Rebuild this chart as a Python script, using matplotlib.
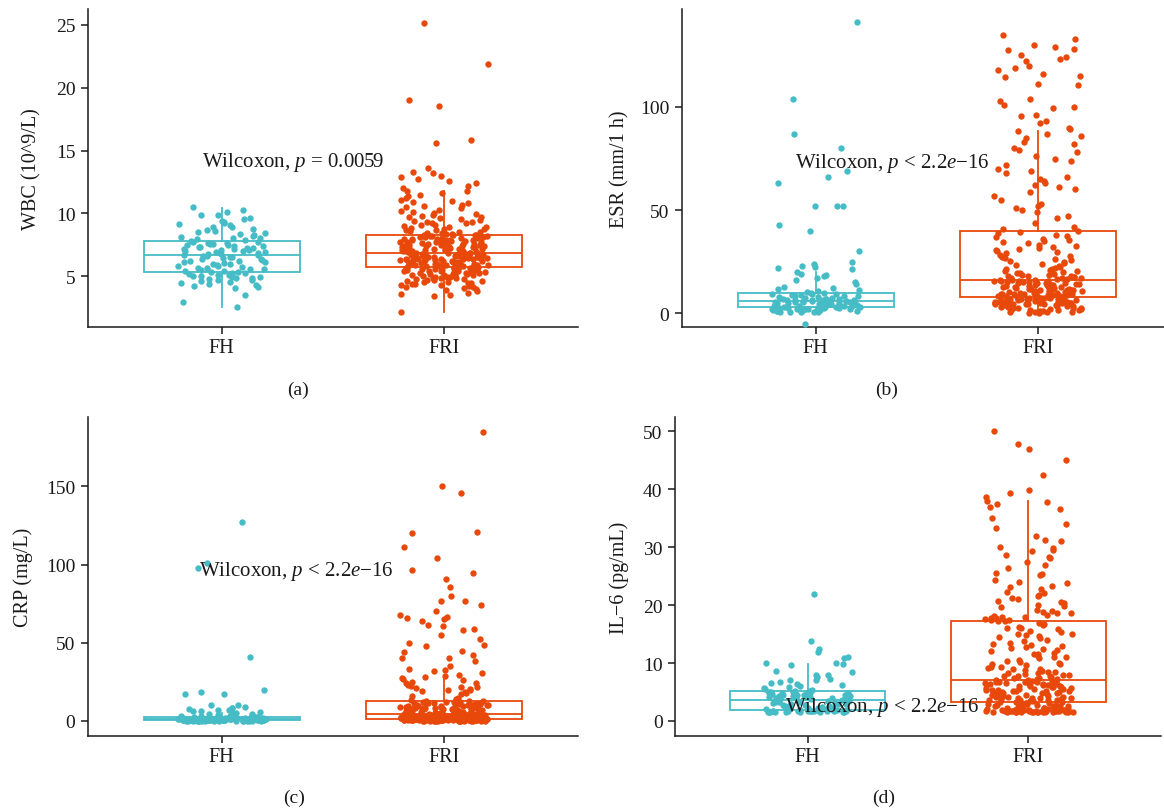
import numpy as np
import matplotlib
matplotlib.use("Agg")
import matplotlib.pyplot as plt

plt.rcParams['font.family'] = ['Liberation Serif', 'DejaVu Serif']
plt.rcParams['mathtext.fontset'] = 'custom'
plt.rcParams['mathtext.rm'] = 'Liberation Serif'
plt.rcParams['mathtext.it'] = 'Liberation Serif:italic'

groups = ["FH", "FRI"]
panel_tags = ["(a)", "(b)", "(c)", "(d)"]
y_titles = ["WBC (10^9/L)", "ESR (mm/1 h)", "CRP (mg/L)", "IL\u22126 (pg/mL)"]
test_labels = [r"Wilcoxon, $p$ = 0.0059",
               r"Wilcoxon, $p$ < 2.2$e$" + "\u221216",
               r"Wilcoxon, $p$ < 2.2$e$" + "\u221216",
               r"Wilcoxon, $p$ < 2.2$e$" + "\u221216"]
test_label_pos = [(0.91, 14.1), (0.908, 73.0), (0.897, 96.0), (0.90, 2.5)]
y_ticks = [[5, 10, 15, 20, 25], [0, 50, 100], [0, 50, 100, 150], [0, 10, 20, 30, 40, 50]]
y_limits = [(0.97, 26.25), (-6.6, 147.4), (-9.6, 194.3), (-2.6, 52.5)]

# box statistics: [FH, FRI]
box_whislo = [[2.56, 2.14], [0.5, 0.5], [0.02, 0.03], [1.5, 1.5]]
box_q1 = [[5.37, 5.74], [3.0, 8.0], [0.5, 1.3], [1.9, 3.2]]
box_med = [[6.72, 6.85], [6.0, 16.0], [1.06, 4.5], [3.7, 7.0]]
box_q3 = [[7.83, 8.31], [10.0, 40.0], [2.3, 12.8], [5.1, 17.3]]
box_whishi = [[10.4, 11.8], [20.0, 88.5], [5.0, 29.0], [9.8, 38.0]]

wbc_fh = [10.5, 10.3, 10.1, 9.9, 9.85, 9.6, 9.55, 9.42, 9.3, 9.2, 9.12, 9.05, 8.95, 8.88, 8.8, 8.72,
          8.64, 8.55, 8.47, 8.38, 8.3, 8.22, 8.15, 8.08, 8.02, 7.95, 7.88,
          7.8, 7.76, 7.72, 7.68, 7.64, 7.6, 7.56, 7.52, 7.48, 7.44, 7.4, 7.36, 7.32, 7.28, 7.24, 7.2,
          7.16, 7.12, 7.08, 7.04, 7.0, 6.96, 6.92, 6.88, 6.84, 6.8, 6.76, 6.73,
          6.7, 6.65, 6.6, 6.55, 6.5, 6.45, 6.4, 6.35, 6.3, 6.25, 6.2, 6.15, 6.1, 6.05, 6.0, 5.95,
          5.9, 5.85, 5.8, 5.75, 5.7, 5.65, 5.6, 5.55, 5.5, 5.46, 5.42, 5.38,
          5.34, 5.3, 5.26, 5.22, 5.18, 5.14, 5.1, 5.06, 5.02, 4.98, 4.94, 4.9, 4.85, 4.8, 4.74,
          4.68, 4.6, 4.52, 4.46, 4.4, 4.32, 4.25, 4.18, 4.1, 3.55, 2.95, 2.56]
wbc_fri = [25.1, 21.9, 19.0, 18.5, 15.8, 15.6, 13.6, 13.3, 13.2, 13.0, 12.9, 12.75, 12.6, 12.4, 12.2,
           12.0, 11.8, 11.75, 11.6, 11.5, 11.4, 11.2, 11.1, 11.0, 10.9, 10.8, 10.7, 10.6, 10.5, 10.4,
           10.3, 10.2, 10.1, 10.0, 9.95, 9.9, 9.8, 9.75, 9.7, 9.6, 9.55, 9.5, 9.4, 9.35, 9.3, 9.25,
           9.2, 9.1, 9.05, 9.0, 8.95, 8.9, 8.85, 8.8, 8.75, 8.7, 8.65, 8.6, 8.55, 8.5, 8.46, 8.42,
           8.38, 8.35, 8.32,
           8.29, 8.27, 8.25, 8.22, 8.2, 8.18, 8.15, 8.13, 8.11, 8.09, 8.06, 8.04, 8.02, 7.99, 7.97,
           7.95, 7.92, 7.9, 7.88, 7.86, 7.83, 7.81, 7.79, 7.76, 7.74, 7.72, 7.69, 7.67, 7.65, 7.63,
           7.6, 7.58, 7.56, 7.53, 7.51, 7.49, 7.46, 7.44, 7.42, 7.4, 7.37, 7.35, 7.33, 7.3, 7.28,
           7.26, 7.23, 7.21, 7.19, 7.17, 7.14, 7.12, 7.1, 7.07, 7.05, 7.03, 7.0, 6.98, 6.96, 6.94,
           6.91, 6.89, 6.87, 6.86, 6.85,
           6.84, 6.82, 6.8, 6.79, 6.77, 6.75, 6.74, 6.72, 6.7, 6.68, 6.67, 6.65, 6.63, 6.62, 6.6,
           6.58, 6.56, 6.55, 6.53, 6.51, 6.5, 6.48, 6.46, 6.44, 6.43, 6.41, 6.39, 6.38, 6.36, 6.34,
           6.32, 6.31, 6.29, 6.27, 6.26, 6.24, 6.22, 6.2, 6.19, 6.17, 6.15, 6.14, 6.12, 6.1, 6.08,
           6.07, 6.05, 6.03, 6.02, 6.0, 5.98, 5.96, 5.95, 5.93, 5.91, 5.9, 5.88, 5.86, 5.84, 5.83,
           5.81, 5.79, 5.78, 5.76, 5.75,
           5.73, 5.71, 5.69, 5.67, 5.65, 5.63, 5.61, 5.59, 5.57, 5.55, 5.53, 5.51, 5.49, 5.47, 5.45,
           5.43, 5.41, 5.39, 5.37, 5.35, 5.32, 5.3, 5.27, 5.25, 5.22, 5.2, 5.17, 5.15, 5.12, 5.1,
           5.07, 5.04, 5.01, 4.98, 4.95, 4.92, 4.89, 4.86, 4.83, 4.8, 4.77, 4.74, 4.7, 4.66, 4.62,
           4.58, 4.54, 4.5, 4.46, 4.42, 4.38, 4.33, 4.28, 4.23, 4.18, 4.12, 4.06, 4.0, 3.9, 3.8,
           3.7, 3.6, 3.5, 3.45, 2.14]

esr_fh = [141, 104, 87, 80, 69, 66, 63, 52, 52.2, 51.8, 43, 40, 30, 25, 24, 23, 22.5, 22, 21.5,
          20, 19, 18.5, 18, 17, 16, 15, 14, 13, 12.5, 12, 11.5, 11, 10.5,
          10, 9.8, 9.6, 9.4, 9.2, 9.0, 8.8, 8.6, 8.4, 8.2, 8.0, 7.8, 7.6, 7.4, 7.2, 7.0, 6.9, 6.8,
          6.7, 6.6, 6.5, 6.4, 6.3, 6.2, 6.1, 6.05, 6.0,
          5.9, 5.8, 5.7, 5.6, 5.5, 5.4, 5.3, 5.2, 5.1, 5.0, 4.9, 4.8, 4.7, 4.6, 4.5, 4.4, 4.3, 4.2,
          4.1, 4.0, 3.8, 3.7, 3.6, 3.4, 3.3, 3.2, 3.1,
          3.0, 2.9, 2.8, 2.7, 2.6, 2.5, 2.4, 2.3, 2.2, 2.1, 2.0, 1.9, 1.8, 1.7, 1.6, 1.5, 1.4, 1.3,
          1.2, 1.1, 1.0, 0.9, 0.8, 0.7, 0.6, 0.5, -5]
esr_fri = [135, 133, 130, 129, 128, 127.5, 125, 124, 123, 122, 120, 119, 118, 116, 115, 114.5, 111,
           110.5, 104, 103, 101, 100, 99.5, 96, 95.5, 93, 92, 90, 89.5, 88.5, 87, 86, 85, 83, 82,
           80, 79, 78, 76, 75, 74, 72, 70, 69, 68, 66, 65, 64, 63, 62, 61, 60, 59, 57, 55, 53, 52,
           51, 50, 49, 47, 46, 44, 42, 41,
           40, 39.5, 39, 38, 37.5, 37, 36, 35.5, 35, 34.5, 34, 33, 32.5, 32, 31.5, 31, 30.5, 30,
           29.5, 29, 28.5, 28, 27.5, 27, 26.5, 26, 25.5, 25, 24.5, 24, 23.5, 23, 22.5, 22, 21.7,
           21.4, 21, 20.7, 20.4, 20, 19.7, 19.4, 19.1, 18.8, 18.5, 18.3, 18.1, 17.9, 17.7, 17.5,
           17.3, 17.1, 16.9, 16.7, 16.5, 16.3, 16.1, 16.0,
           15.9, 15.7, 15.5, 15.3, 15.1, 14.9, 14.7, 14.5, 14.3, 14.1, 13.9, 13.7, 13.5, 13.3, 13.1,
           12.9, 12.7, 12.5, 12.3, 12.1, 11.9, 11.7, 11.5, 11.3, 11.1, 10.9, 10.7, 10.5, 10.3, 10.1,
           9.9, 9.7, 9.5, 9.3, 9.1, 8.9, 8.7, 8.5, 8.3, 8.1, 15.6, 14.8, 14.0, 13.2, 12.4, 11.6,
           10.8, 10.0, 9.2, 8.4, 15.2, 13.6, 12.0, 10.4, 8.8, 14.4, 11.2, 9.6, 8.2, 12.8, 9.4, 10.6,
           13.8, 11.4, 8.6,
           7.9, 7.8, 7.7, 7.6, 7.5, 7.4, 7.3, 7.2, 7.1, 7.0, 6.9, 6.8, 6.7, 6.6, 6.5, 6.4, 6.3, 6.2,
           6.1, 6.0, 5.9, 5.8, 5.7, 5.6, 5.5, 5.4, 5.3, 5.2, 5.1, 5.0, 4.9, 4.8, 4.7, 4.6, 4.5, 4.4,
           4.3, 4.2, 4.1, 4.0, 3.8, 3.6, 3.4, 3.2, 3.0, 2.8, 2.6, 2.4, 2.2, 2.0, 1.8, 1.6, 1.4, 1.2,
           1.0, 0.8, 0.6, 0.5, 0.4, 0.3, 2.5, 3.5, 1.5, 4.5, 0.9]

crp_fh = [127, 101, 98, 41, 20, 18.5, 17.5, 17, 10.5, 10, 9, 8.5, 8, 7.6, 7.2, 7, 6.6, 6.2, 5.8,
          5.4, 5.0, 4.7, 4.4, 4.1, 3.8, 3.5, 3.2, 3.0, 2.8, 2.6, 2.45, 2.3,
          2.25, 2.2, 2.15, 2.1, 2.05, 2.0, 1.95, 1.9, 1.85, 1.8, 1.75, 1.7, 1.65, 1.6, 1.55, 1.5,
          1.45, 1.4, 1.35, 1.3, 1.27, 1.24, 1.2, 1.17, 1.14, 1.11, 1.08,
          1.04, 1.02, 1.0, 0.98, 0.96, 0.94, 0.92, 0.9, 0.88, 0.86, 0.84, 0.82, 0.8, 0.78, 0.76,
          0.74, 0.72, 0.7, 0.68, 0.66, 0.64, 0.62, 0.6, 0.58, 0.56, 0.54, 0.52,
          0.5, 0.48, 0.46, 0.44, 0.42, 0.4, 0.38, 0.36, 0.34, 0.32, 0.3, 0.28, 0.26, 0.24, 0.22,
          0.2, 0.18, 0.16, 0.14, 0.12, 0.1, 0.08, 0.06, 0.05, 0.04, 0.03, 0.02]
crp_fri = [185, 150, 146, 121, 120, 111, 104, 96.5, 94.5, 90.5, 85.5, 80, 77, 76.5, 74, 70, 68, 66,
           66.5, 65, 64, 61.5, 60.5, 59, 58, 55, 52.5, 50, 48.5, 48, 44, 44.5, 42, 40.5, 40, 38.5,
           35, 33.5, 32, 32.5, 30.5, 29.5,
           29, 28, 27.5, 27, 26, 25, 24.5, 24, 23, 22.5, 22, 21.5, 21, 20.5, 20, 19.5, 19, 18.5,
           18, 17, 16, 15, 14, 13.5, 13,
           12.7, 12.5, 12.3, 12.1, 11.9, 11.7, 11.5, 11.3, 11.1, 10.9, 10.7, 10.5, 10.3, 10.1, 9.9,
           9.7, 9.5, 9.3, 9.1, 8.9, 8.7, 8.5, 8.3, 8.1, 7.9, 7.7, 7.5, 7.3, 7.1, 6.9, 6.7, 6.5,
           6.3, 6.1, 5.9, 5.7, 5.5, 5.3, 5.1, 4.9, 4.7, 4.6, 12.0, 11.0, 10.0, 9.0, 8.0, 7.0, 6.0,
           5.0, 11.6, 9.6, 7.6, 5.6, 10.6, 8.6, 6.6, 4.8, 12.4, 6.4, 7.8, 9.8, 5.2, 8.2, 10.8,
           4.45, 4.4, 4.35, 4.3, 4.25, 4.2, 4.15, 4.1, 4.05, 4.0, 3.95, 3.9, 3.85, 3.8, 3.75, 3.7,
           3.65, 3.6, 3.55, 3.5, 3.45, 3.4, 3.35, 3.3, 3.25, 3.2, 3.15, 3.1, 3.05, 3.0, 2.95, 2.9,
           2.85, 2.8, 2.75, 2.7, 2.65, 2.6, 2.55, 2.5, 2.45, 2.4, 2.35, 2.3, 2.25, 2.2, 2.15, 2.1,
           2.05, 2.0, 1.95, 1.9, 1.85, 1.8, 1.75, 1.7, 1.65, 1.6, 1.55, 1.5, 1.45, 1.4, 1.38, 1.35,
           1.32,
           1.28, 1.26, 1.24, 1.22, 1.2, 1.18, 1.16, 1.14, 1.12, 1.1, 1.08, 1.06, 1.04, 1.02, 1.0,
           0.98, 0.96, 0.94, 0.92, 0.9, 0.88, 0.86, 0.84, 0.82, 0.8, 0.78, 0.76, 0.74, 0.72, 0.7,
           0.68, 0.66, 0.64, 0.62, 0.6, 0.58, 0.56, 0.54, 0.52, 0.5, 0.48, 0.46, 0.44, 0.42, 0.4,
           0.38, 0.36, 0.34, 0.32, 0.3, 0.28, 0.26, 0.24, 0.22, 0.2, 0.18, 0.16, 0.14, 0.12, 0.1,
           0.08, 0.06, 0.05, 0.04, 0.03]

il6_fh = [22.0, 13.8, 12.5, 11.9, 11.0, 10.8, 10.0, 9.95, 9.8, 9.7, 8.6, 8.4, 8.0, 7.9, 7.6, 7.3,
          7.1, 7.0, 6.8, 6.6, 6.4, 6.2, 6.0, 5.9, 5.7, 5.5, 5.3, 5.2,
          5.1, 5.05, 5.0, 4.95, 4.9, 4.85, 4.8, 4.75, 4.7, 4.65, 4.6, 4.55, 4.5, 4.45, 4.4, 4.35,
          4.3, 4.25, 4.2, 4.15, 4.1, 4.05, 4.0, 3.95, 3.9, 3.8, 3.75,
          3.65, 3.6, 3.5, 3.45, 3.4, 3.3, 3.25, 3.2, 3.1, 3.05, 3.0, 2.9, 2.85, 2.8, 2.7, 2.65,
          2.6, 2.5, 2.45, 2.4, 2.3, 2.25, 2.2, 2.1, 2.05, 2.0, 1.95,
          1.88, 1.86, 1.84, 1.82, 1.8, 1.78, 1.76, 1.74, 1.72, 1.7, 1.68, 1.66, 1.64, 1.62, 1.6,
          1.58, 1.56, 1.54, 1.52, 1.5, 1.55, 1.65, 1.75, 1.85, 1.57, 1.67, 1.77]
il6_fri = [50.1, 47.8, 46.9, 45.0, 42.5, 39.9, 39.3, 38.7, 38.0, 37.8, 37.4, 36.9, 36.6, 35.1, 33.4,
           31.2, 31.1, 30.0, 29.9, 29.6, 29.4, 28.7, 28.3, 28.2, 26.9, 25.5, 25.4, 25.2, 24.4, 23.9,
           23.3, 23.2, 22.3, 22.1, 21.7, 21.3, 21.0, 20.8, 20.6, 20.4, 19.8, 19.6, 19.0, 18.7, 18.6,
           18.3, 18.0, 17.9, 17.8, 17.6, 17.5, 17.4, 17.35, 24.0, 26.5, 32.0, 27.5, 34.0, 19.2,
           20.0, 22.8, 18.9, 21.5, 17.7, 18.1,
           17.2, 17.0, 16.8, 16.5, 16.3, 16.0, 15.8, 15.5, 15.3, 15.0, 14.8, 14.5, 14.3, 14.0, 13.8,
           13.5, 13.3, 13.0, 12.8, 12.5, 12.3, 12.0, 11.8, 11.5, 11.3, 11.0, 10.8, 10.5, 10.3, 10.0,
           9.8, 9.6, 9.4, 9.2, 9.0, 8.8, 8.6, 8.4, 8.2, 8.0, 7.9, 7.8, 7.7, 7.6, 7.5, 7.4, 7.3, 7.2,
           7.1, 7.05, 16.1, 14.6, 13.1, 11.6, 10.1, 8.9, 8.1, 7.75, 8.5, 9.3, 12.6, 15.1, 11.1, 9.9,
           8.3,
           6.95, 6.9, 6.85, 6.8, 6.75, 6.7, 6.6, 6.5, 6.4, 6.3, 6.2, 6.1, 6.0, 5.9, 5.8, 5.7, 5.6,
           5.5, 5.4, 5.3, 5.2, 5.1, 5.0, 4.9, 4.8, 4.7, 4.6, 4.5, 4.4, 4.3, 4.2, 4.1, 4.0, 3.9, 3.8,
           3.7, 3.6, 3.5, 3.4, 3.3, 3.25, 6.65, 6.35, 6.05, 5.75, 5.45, 5.15, 4.85, 4.55, 4.25,
           3.95, 3.65, 3.35, 6.55, 5.95, 5.35, 4.75, 4.15, 3.55, 6.45, 5.25, 4.05, 6.25, 5.05, 3.85,
           3.15, 3.1, 3.05, 3.0, 2.95, 2.9, 2.85, 2.8, 2.75, 2.7, 2.65, 2.6, 2.55, 2.5, 2.45, 2.4,
           2.35, 2.3, 2.25, 2.2, 2.15, 2.1, 2.05, 2.0, 1.95, 1.9, 1.85, 1.8, 1.75, 1.7, 1.65, 1.6,
           1.55, 1.5, 1.52, 1.54, 1.56, 1.58, 1.62, 1.64, 1.66, 1.68, 1.72, 1.74, 1.76, 1.78, 1.82,
           1.84, 1.86, 1.88, 1.92, 1.94, 1.96, 1.98, 1.5, 1.51, 1.53, 1.57, 1.59, 1.61, 1.63, 1.67,
           1.69, 1.71, 1.73]

panel_values = [(wbc_fh, wbc_fri), (esr_fh, esr_fri), (crp_fh, crp_fri), (il6_fh, il6_fri)]

# ---------------- styling / layout ----------------
colors = ["#45BCC6", "#E8490B"]
W, H = 1164, 812
fig = plt.figure(figsize=(W / 100, H / 100), dpi=100)
fig.patch.set_facecolor("white")

# axes boxes in pixels: left, top, right, bottom
boxes_px = [(88, 10, 578, 328), (682, 10, 1172, 328), (88, 418, 578, 737), (675, 418, 1161, 737)]
ylabel_x = [-0.095, -0.108, -0.112, -0.094]
tag_pos = [(298, 390), (887, 390), (294, 798), (884, 798)]


def jitter(n, seed_shift, width=0.2):
    # deterministic horizontal scatter of the points inside each group (position only)
    k = np.arange(n) + seed_shift
    h = np.sin(k * 12.9898 + 78.233) * 43758.5453
    h = h - np.floor(h)
    return (h - 0.5) * 2 * width


for p in range(4):
    l, t, r, b = boxes_px[p]
    ax = fig.add_axes([l / W, 1 - b / H, (r - l) / W, (b - t) / H])
    ax.set_xlim(0.4, 2.6)
    ax.set_ylim(*y_limits[p])
    for g in range(2):
        stats = dict(med=box_med[p][g], q1=box_q1[p][g], q3=box_q3[p][g],
                     whislo=box_whislo[p][g], whishi=box_whishi[p][g], fliers=[])
        ax.bxp([stats], positions=[g + 1], widths=0.7, showcaps=False, showfliers=False,
               patch_artist=True,
               boxprops=dict(facecolor="white", edgecolor=colors[g], linewidth=1.3),
               medianprops=dict(color=colors[g], linewidth=1.3),
               whiskerprops=dict(color=colors[g], linewidth=1.3),
               manage_ticks=False, zorder=2)
    for g in range(2):
        vals = np.asarray(panel_values[p][g], dtype=float)
        xs = (g + 1) + jitter(len(vals), 1000 * g + 37 * p)
        ax.scatter(xs, vals, s=21, color=colors[g], linewidths=0, zorder=3)
    ax.set_xticks([1, 2])
    ax.set_xticklabels(groups, fontsize=14.5)
    ax.set_yticks(y_ticks[p])
    ax.set_yticklabels([str(v) for v in y_ticks[p]], fontsize=14)
    for s in ["top", "right"]:
        ax.spines[s].set_visible(False)
    for s in ["left", "bottom"]:
        ax.spines[s].set_linewidth(1.1)
        ax.spines[s].set_color("#1a1a1a")
    ax.tick_params(axis="both", length=5, width=1.1, color="#1a1a1a", labelcolor="#1a1a1a")
    ax.tick_params(axis="y", pad=4)
    ax.tick_params(axis="x", pad=3)
    ax.set_ylabel(y_titles[p], fontsize=14.5, color="#1a1a1a")
    ax.yaxis.set_label_coords(ylabel_x[p], 0.5)
    tx, ty = test_label_pos[p]
    ax.text(tx, ty, test_labels[p], fontsize=15, ha="left", va="center", color="#1a1a1a", zorder=5)
    fig.text(tag_pos[p][0] / W, 1 - tag_pos[p][1] / H, panel_tags[p], fontsize=14,
             ha="center", va="center", color="#1a1a1a")

fig.savefig("out.png", dpi=100, facecolor="white")
